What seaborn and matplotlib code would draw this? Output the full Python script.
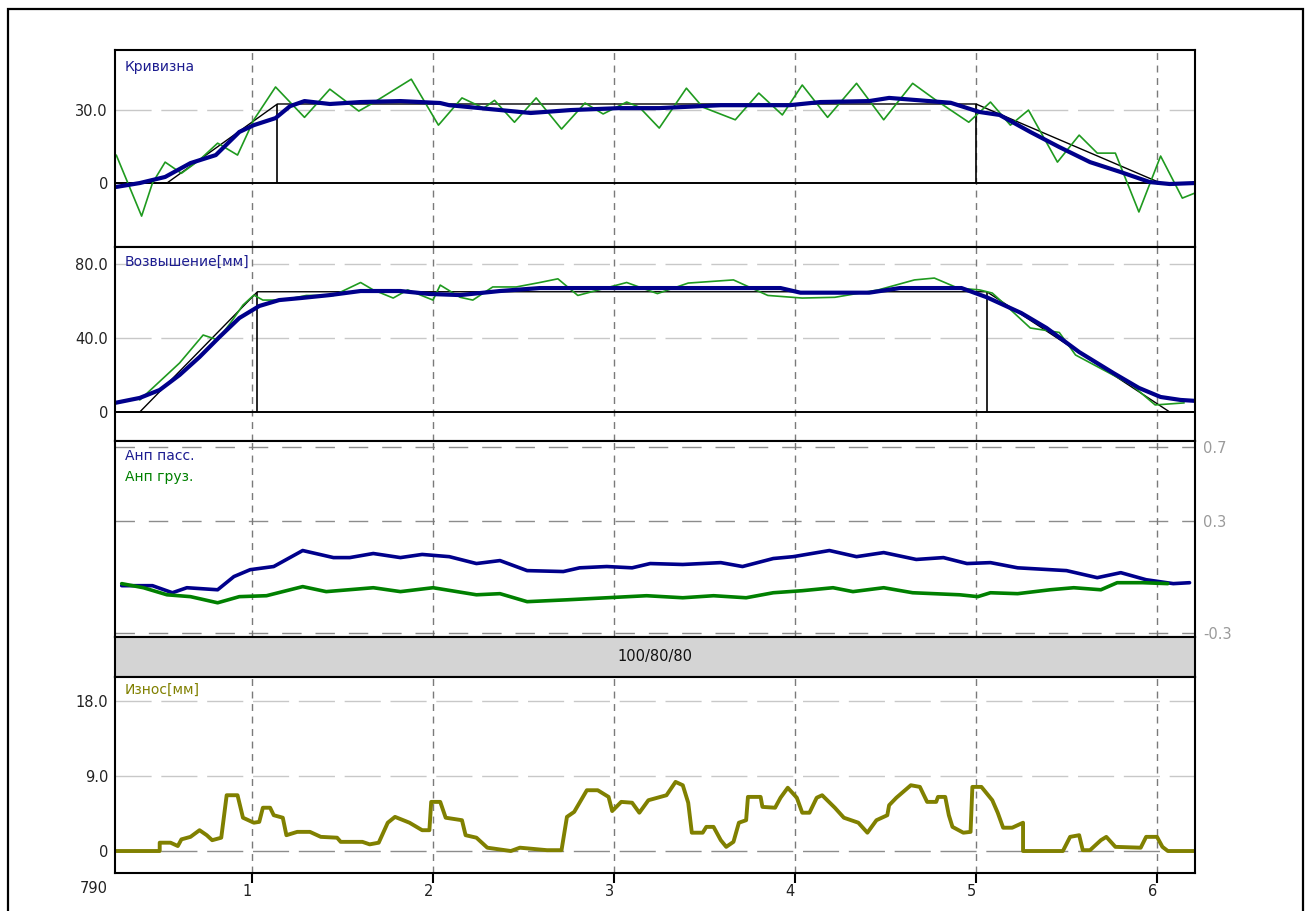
import matplotlib
matplotlib.use("Agg")
import matplotlib.pyplot as plt
import seaborn as sns
from matplotlib.patches import Rectangle

sns.set_theme(style="white")
plt.rcParams["font.family"] = ["DejaVu Sans"]

# ---------------- data (x in pickets, km 790) ----------------
x_ticks = [1, 2, 3, 4, 5, 6]
x_tick_labels = ["1", "2", "3", "4", "5", "6"]
km_label = "790"
band_label = "100/80/80"

# Panel 1: curvature
curv_fact_x = [0.25, 0.39, 0.45, 0.52, 0.61, 0.71, 0.81, 0.92, 1.01, 1.13,
               1.29, 1.43, 1.59, 1.67, 1.88, 2.03, 2.16, 2.28, 2.34, 2.45,
               2.57, 2.71, 2.84, 2.94, 3.07, 3.14, 3.25, 3.40, 3.49, 3.67,
               3.80, 3.93, 4.04, 4.18, 4.34, 4.49, 4.65, 4.78, 4.96, 5.08,
               5.19, 5.29, 5.45, 5.57, 5.67, 5.77, 5.90, 6.02, 6.14, 6.21]
curv_fact = [11.5, -13.6, 0, 8.6, 4, 9.5, 16.4, 11.5, 26, 39.5,
             27, 38.6, 29.6, 33, 42.7, 23.8, 35, 30.8, 34, 25,
             35, 22.2, 32.9, 28.4, 33.3, 31.2, 22.6, 39, 31.2, 26,
             37, 28, 40.3, 27, 41, 26, 41, 34, 25, 33.3,
             23.8, 30, 8.6, 19.7, 12.3, 12.3, -11.9, 11.1, -6.2, -4.1]
curv_avg_x = [0.25, 0.38, 0.52, 0.66, 0.80, 0.93, 1.01, 1.13, 1.21, 1.29,
              1.43, 1.60, 1.82, 2.04, 2.09, 2.26, 2.54, 2.76, 3.03, 3.25,
              3.59, 3.97, 4.14, 4.41, 4.52, 4.69, 4.86, 5.02, 5.13, 5.30,
              5.46, 5.63, 5.80, 5.96, 6.07, 6.21]
curv_avg = [-1.6, 0, 2.5, 8.2, 11.5, 21, 23.8, 26.7, 31.6, 33.7,
            32.5, 33.3, 33.7, 32.9, 32, 30.8, 28.8, 30, 30.8, 30.8,
            32, 32, 33.3, 33.7, 35, 34, 33, 29.2, 28, 21,
            14.8, 8.6, 4.5, 0.4, -0.4, 0]
curv_pass_x = [0.243, 0.53, 1.14, 5.00, 6.02, 6.21]
curv_pass = [0, 0, 32.5, 32.5, 0, 0]
curv_marks = [1.14, 5.00]

# Panel 2: elevation [mm]
elev_fact_x = [0.38, 0.60, 0.73, 0.81, 0.88, 0.95, 1.01, 1.06, 1.17, 1.30,
               1.45, 1.60, 1.67, 1.78, 1.86, 2.00, 2.04, 2.15, 2.22, 2.33,
               2.46, 2.59, 2.69, 2.80, 3.07, 3.24, 3.41, 3.66, 3.85, 4.04,
               4.22, 4.46, 4.66, 4.77, 4.90, 5.02, 5.09, 5.15, 5.30, 5.46,
               5.55, 5.86, 5.99, 6.15]
elev_fact = [6.5, 26.5, 41.6, 39, 48, 57.8, 63.2, 60.5, 60.5, 63,
             63, 70, 66, 61.6, 66, 60.5, 68.6, 62, 60.5, 67.6,
             67.6, 70, 72, 63, 70, 64, 69.7, 71.4, 63, 61.6,
             62, 66, 71.4, 72.4, 67, 66, 64.3, 59, 45.4, 43,
             30.8, 14.6, 3.8, 4.9]
elev_avg_x = [0.243, 0.38, 0.49, 0.60, 0.71, 0.82, 0.93, 1.04, 1.15, 1.27,
              1.43, 1.60, 1.82, 1.98, 2.15, 2.37, 2.59, 3.92, 4.03, 4.41,
              4.58, 4.92, 5.06, 5.25, 5.39, 5.57, 5.76, 5.90, 6.02, 6.13,
              6.21]
elev_avg = [4.9, 7.6, 11.9, 20, 29.7, 40.5, 50.8, 57.3, 60.5, 61.6,
            63.2, 65.4, 65.4, 63.8, 63.2, 65.4, 67, 67, 64.5, 64.5,
            67, 67, 62, 53.5, 45.4, 32.4, 21, 13, 8.1, 6.5,
            6]
elev_pass_x = [0.243, 0.38, 1.03, 5.06, 6.07, 6.21]
elev_pass = [0, 0, 65, 65, 0, 0]
elev_marks = [1.03, 5.06]

# Panel 3: unbalanced acceleration
anp_pass_x = [0.28, 0.45, 0.56, 0.64, 0.81, 0.90, 0.99, 1.12, 1.28, 1.45,
              1.54, 1.67, 1.82, 1.94, 2.09, 2.24, 2.37, 2.52, 2.72, 2.81,
              2.96, 3.10, 3.20, 3.38, 3.59, 3.71, 3.88, 3.99, 4.19, 4.34,
              4.49, 4.67, 4.82, 4.95, 5.08, 5.23, 5.50, 5.67, 5.80, 5.94,
              6.09, 6.18]
anp_pass = [-0.046, -0.046, -0.084, -0.057, -0.068, 0.003, 0.04, 0.057, 0.143, 0.105,
            0.105, 0.127, 0.105, 0.122, 0.11, 0.073, 0.089, 0.035, 0.03, 0.05,
            0.057, 0.05, 0.073, 0.068, 0.078, 0.057, 0.1, 0.11, 0.143, 0.11,
            0.132, 0.095, 0.105, 0.073, 0.078, 0.05, 0.035, -0.003, 0.024, -0.014,
            -0.035, -0.03]
anp_gruz_x = [0.28, 0.40, 0.53, 0.66, 0.81, 0.93, 1.08, 1.28, 1.41, 1.67,
              1.82, 2.00, 2.24, 2.37, 2.52, 2.74, 2.96, 3.18, 3.38, 3.55,
              3.73, 3.88, 4.04, 4.21, 4.32, 4.49, 4.65, 4.91, 5.01, 5.08,
              5.23, 5.41, 5.54, 5.69, 5.78, 5.92, 6.06]
anp_gruz = [-0.035, -0.057, -0.095, -0.105, -0.138, -0.105, -0.1, -0.051, -0.078, -0.057,
            -0.078, -0.057, -0.095, -0.089, -0.132, -0.122, -0.111, -0.1, -0.111, -0.1,
            -0.111, -0.084, -0.073, -0.057, -0.078, -0.057, -0.084, -0.095, -0.105, -0.084,
            -0.089, -0.068, -0.057, -0.068, -0.03, -0.03, -0.035]

# Panel 4: wear [mm]
wear_x = [0.25, 0.49, 0.49, 0.55, 0.59, 0.61, 0.66, 0.71, 0.75, 0.78,
          0.83, 0.86, 0.92, 0.95, 1.01, 1.04, 1.06, 1.10, 1.12, 1.17,
          1.19, 1.25, 1.32, 1.38, 1.47, 1.49, 1.61, 1.65, 1.70, 1.75,
          1.79, 1.87, 1.94, 1.98, 1.99, 2.04, 2.07, 2.16, 2.18, 2.24,
          2.30, 2.43, 2.48, 2.63, 2.71, 2.74, 2.78, 2.85, 2.91, 2.97,
          2.99, 3.04, 3.10, 3.14, 3.19, 3.29, 3.34, 3.38, 3.41, 3.43,
          3.49, 3.51, 3.55, 3.59, 3.62, 3.66, 3.69, 3.73, 3.74, 3.81,
          3.82, 3.89, 3.92, 3.96, 4.01, 4.04, 4.08, 4.12, 4.15, 4.22,
          4.27, 4.35, 4.40, 4.45, 4.51, 4.52, 4.56, 4.64, 4.69, 4.73,
          4.78, 4.79, 4.83, 4.85, 4.87, 4.93, 4.97, 4.98, 5.03, 5.09,
          5.12, 5.15, 5.20, 5.26, 5.26, 5.48, 5.52, 5.57, 5.59, 5.63,
          5.69, 5.72, 5.77, 5.91, 5.94, 6.00, 6.03, 6.06, 6.21]
wear = [0, 0, 1, 1, 0.6, 1.4, 1.7, 2.5, 1.9, 1.3,
        1.6, 6.7, 6.7, 4.0, 3.4, 3.5, 5.2, 5.2, 4.3, 4.0,
        1.9, 2.3, 2.3, 1.7, 1.6, 1.1, 1.1, 0.8, 1.0, 3.4,
        4.1, 3.4, 2.5, 2.5, 5.9, 5.9, 4.0, 3.7, 1.9, 1.6,
        0.4, 0, 0.4, 0.1, 0.1, 4.1, 4.7, 7.3, 7.3, 6.5,
        4.8, 5.9, 5.8, 4.6, 6.1, 6.7, 8.3, 7.9, 5.8, 2.2,
        2.2, 2.9, 2.9, 1.3, 0.5, 1.1, 3.4, 3.7, 6.5, 6.5,
        5.3, 5.2, 6.4, 7.6, 6.4, 4.6, 4.6, 6.4, 6.7, 5.2,
        4.0, 3.4, 2.2, 3.7, 4.3, 5.5, 6.4, 7.9, 7.7, 5.9,
        5.9, 6.5, 6.5, 4.3, 2.9, 2.2, 2.3, 7.7, 7.7, 6.1,
        4.6, 2.8, 2.8, 3.4, 0, 0, 1.7, 1.9, 0.1, 0.1,
        1.3, 1.7, 0.5, 0.4, 1.7, 1.7, 0.5, 0, 0]

# ---------------- style ----------------
NAVY = "#00008b"
GREEN_THIN = "#1f9a1f"
GREEN = "#008000"
OLIVE = "#808000"
TXT_NAVY = "#1c1c90"
LIGHT_GRID = "#c8c8c8"
DARK_GRID = "#8c8c8c"
VGRID = "#7a7a7a"
XLIM = (0.243, 6.21)

W_PX, H_PX = 1305, 911
fig = plt.figure(figsize=(W_PX / 100, H_PX / 100), dpi=100)
fig.patch.set_facecolor("white")
fig.add_artist(Rectangle((8 / W_PX, -0.05), (1303 - 8) / W_PX, 1.05 - 9 / H_PX,
                         transform=fig.transFigure, fill=False,
                         edgecolor="black", lw=1.6))

L, R = 115, 1195


def pos(top, bottom):
    return [L / W_PX, 1 - bottom / H_PX, (R - L) / W_PX, (bottom - top) / H_PX]


ax1 = fig.add_axes(pos(50, 247))
ax2 = fig.add_axes(pos(247, 441))
ax3 = fig.add_axes(pos(441, 637))
axb = fig.add_axes(pos(637, 677))
ax4 = fig.add_axes(pos(677, 873))

for ax in (ax1, ax2, ax3, axb, ax4):
    ax.set_facecolor("white")
    ax.set_xlim(*XLIM)
    for s in ax.spines.values():
        s.set_visible(True)
        s.set_color("black")
        s.set_linewidth(1.5)
    ax.tick_params(axis="x", bottom=False, labelbottom=False)
    ax.tick_params(axis="y", left=False, length=0, labelsize=10.5,
                   labelcolor="#222222", pad=5)
    ax.grid(False)

for ax in (ax1, ax2, ax3, ax4):
    for k in x_ticks:
        ax.axvline(k, color=VGRID, lw=1.0, dashes=(5, 4), zorder=0.6)


def hgrid(ax, y, color=LIGHT_GRID, dashes=(26, 7)):
    ax.axhline(y, color=color, lw=1.0, dashes=dashes, zorder=0.5)


def draw(ax, x, y, color, lw):
    sns.lineplot(x=x, y=y, ax=ax, color=color, linewidth=lw,
                 sort=False, estimator=None, legend=False)
    ax.set_xlabel("")
    ax.set_ylabel("")


# ---- panel 1 ----
ax1.set_ylim(-26.3, 54.7)
hgrid(ax1, 30)
ax1.axhline(0, color="black", lw=1.4, zorder=1)
draw(ax1, curv_pass_x, curv_pass, "black", 1.0)
ax1.vlines(curv_marks, 0, curv_pass[2], color="black", lw=1.2)
draw(ax1, curv_fact_x, curv_fact, GREEN_THIN, 1.2)
draw(ax1, curv_avg_x, curv_avg, NAVY, 3.0)
ax1.set_yticks([0, 30])
ax1.set_yticklabels(["0", "30.0"])
ax1.text(0.009, 0.914, "Кривизна", transform=ax1.transAxes, color=TXT_NAVY,
         fontsize=10, va="center", ha="left")

# ---- panel 2 ----
ax2.set_ylim(-15.7, 89.2)
hgrid(ax2, 80)
hgrid(ax2, 40)
ax2.axhline(0, color="black", lw=1.4, zorder=1)
draw(ax2, elev_pass_x, elev_pass, "black", 1.0)
ax2.vlines(elev_marks, 0, elev_pass[2], color="black", lw=1.2)
draw(ax2, elev_fact_x, elev_fact, GREEN_THIN, 1.2)
draw(ax2, elev_avg_x, elev_avg, NAVY, 3.0)
ax2.set_yticks([0, 40, 80])
ax2.set_yticklabels(["0", "40.0", "80.0"])
ax2.text(0.009, 0.923, "Возвышение[мм]", transform=ax2.transAxes,
         color=TXT_NAVY, fontsize=10, va="center", ha="left")

# ---- panel 3 ----
ax3.set_ylim(-0.322, 0.732)
for yv in (0.7, 0.3, -0.3):
    hgrid(ax3, yv, color=DARK_GRID, dashes=(14, 10))
draw(ax3, anp_pass_x, anp_pass, NAVY, 2.6)
draw(ax3, anp_gruz_x, anp_gruz, GREEN, 2.6)
ax3.yaxis.tick_right()
ax3.set_yticks([-0.3, 0.3, 0.7])
ax3.set_yticklabels(["-0.3", "0.3", "0.7"])
ax3.tick_params(axis="y", right=False, length=0, labelcolor="#9a9a9a",
                labelsize=10.5, pad=6)
ax3.text(0.009, 0.923, "Анп пасс.", transform=ax3.transAxes, color=TXT_NAVY,
         fontsize=10, va="center", ha="left")
ax3.text(0.009, 0.816, "Анп груз.", transform=ax3.transAxes, color=GREEN,
         fontsize=10, va="center", ha="left")

# ---- band ----
axb.set_facecolor("#d4d4d4")
axb.set_yticks([])
axb.text(0.5, 0.5, band_label, transform=axb.transAxes, ha="center",
         va="center", fontsize=10.5, color="#111111")

# ---- panel 4 ----
ax4.set_ylim(-2.64, 20.9)
hgrid(ax4, 18)
hgrid(ax4, 9)
hgrid(ax4, 0, color=DARK_GRID, dashes=(26, 7))
draw(ax4, wear_x, wear, OLIVE, 2.8)
ax4.set_yticks([0, 9, 18])
ax4.set_yticklabels(["0", "9.0", "18.0"])
ax4.text(0.009, 0.934, "Износ[мм]", transform=ax4.transAxes, color=OLIVE,
         fontsize=10, va="center", ha="left")
ax4.set_xticks(x_ticks)
ax4.set_xticklabels(x_tick_labels, ha="right")
ax4.tick_params(axis="x", bottom=True, labelbottom=True, direction="out",
                length=7, width=1.5, color="black", labelsize=10.5,
                labelcolor="#222222", pad=1)
ax4.annotate(km_label, xy=(0, 0), xycoords="axes fraction",
             xytext=(-5, -6), textcoords="offset points", ha="right",
             va="top", fontsize=10.5, color="#222222")
ax4.set_xlim(*XLIM)

fig.savefig("out.png", dpi=100, facecolor="white")
